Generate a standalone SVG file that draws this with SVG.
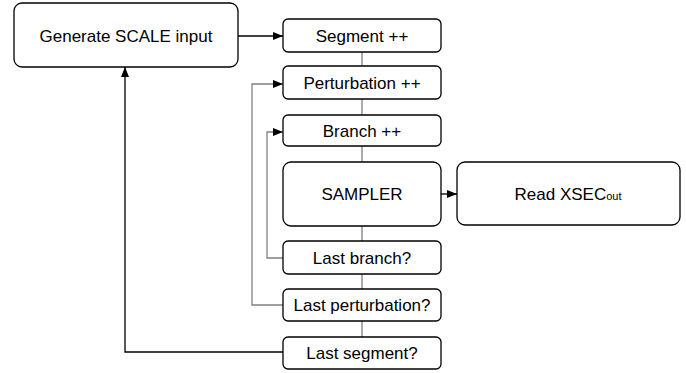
<svg xmlns="http://www.w3.org/2000/svg" width="686" height="373" viewBox="0 0 686 373">
<style>
.box{fill:#fff;stroke:#000;stroke-width:1.3}
.t{font-family:"Liberation Sans",Arial,sans-serif;font-size:17px;fill:#000;text-anchor:middle}
.c{fill:none;stroke:#000;stroke-width:1.3}
.g{fill:none;stroke:#808080;stroke-width:1.3}
</style>
<defs>
<marker id="ah" viewBox="0 0 10 10" refX="10" refY="5" markerWidth="10" markerHeight="10" markerUnits="userSpaceOnUse" orient="auto">
<path d="M0,1 L10,5 L0,9 Z" fill="#000"/>
</marker>
</defs>
<g id="connectors">
<line class="c" x1="238" y1="36" x2="283" y2="36" marker-end="url(#ah)"/>
<line class="g" x1="362" y1="52" x2="362" y2="66"/>
<line class="g" x1="362" y1="99" x2="362" y2="115"/>
<line class="g" x1="362" y1="146" x2="362" y2="162"/>
<line class="g" x1="362" y1="226" x2="362" y2="241"/>
<line class="g" x1="362" y1="274" x2="362" y2="289"/>
<line class="g" x1="362" y1="321" x2="362" y2="337"/>
<line class="c" x1="441" y1="194" x2="457" y2="194" marker-end="url(#ah)"/>
<polyline class="g" points="284,258 267,258 267,132 283,132" marker-end="url(#ah)"/>
<polyline class="g" points="284,305 252,305 252,84 283,84" marker-end="url(#ah)"/>
<polyline class="c" points="284,352 125,352 125,67" marker-end="url(#ah)"/>
</g>
<g id="gen"><rect class="box" x="14" y="3" width="224" height="64" rx="8"/><text class="t" x="126" y="42">Generate SCALE input</text></g>
<g id="seg"><rect class="box" x="283" y="19" width="158" height="33" rx="5"/><text class="t" x="362" y="42">Segment ++</text></g>
<g id="pert"><rect class="box" x="283" y="66" width="158" height="33" rx="5"/><text class="t" x="362" y="89">Perturbation ++</text></g>
<g id="branch"><rect class="box" x="283" y="115" width="158" height="31" rx="5"/><text class="t" x="362" y="137">Branch ++</text></g>
<g id="sampler"><rect class="box" x="283" y="162" width="158" height="64" rx="8"/><text class="t" x="362" y="200">SAMPLER</text></g>
<g id="read"><rect class="box" x="457" y="162" width="223" height="63" rx="8"/><text class="t" x="568" y="200">Read XSEC<tspan font-size="11">out</tspan></text></g>
<g id="lastb"><rect class="box" x="283" y="241" width="158" height="33" rx="5"/><text class="t" x="362" y="264">Last branch?</text></g>
<g id="lastp"><rect class="box" x="283" y="289" width="158" height="32" rx="5"/><text class="t" x="362" y="311">Last perturbation?</text></g>
<g id="lasts"><rect class="box" x="283" y="337" width="158" height="32" rx="5"/><text class="t" x="362" y="359">Last segment?</text></g>
</svg>
